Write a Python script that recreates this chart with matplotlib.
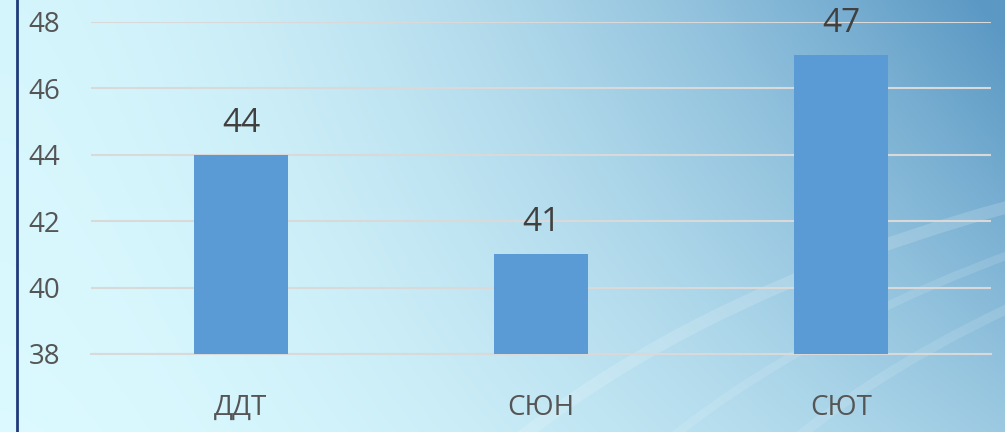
import numpy as np
import matplotlib
matplotlib.use("Agg")
import matplotlib.pyplot as plt
from matplotlib.patches import Arc

categories = ["ДДТ", "СЮН", "СЮТ"]
values = [44, 41, 47]
y_ticks = [38, 40, 42, 44, 46, 48]

plt.rcParams["font.family"] = ["Open Sans", "DejaVu Sans"]

fig = plt.figure(figsize=(10.05, 4.32), dpi=100)

# background gradient (light cyan on the left -> blue top-right)
bg = fig.add_axes([0, 0, 1, 1], zorder=0)
gx, gy = np.meshgrid(np.linspace(0, 1, 400), np.linspace(0, 1, 200))
t = np.clip(gx ** 1.7 * (0.5 + 0.5 * gy) + 0.05 * gy, 0, 1)
c0 = np.array([0.86, 0.98, 1.00])
c1 = np.array([0.36, 0.60, 0.77])
img = c0 + (c1 - c0) * t[..., None]
bg.imshow(img, origin="lower", extent=[0, 1, 0, 1], aspect="auto")
# soft swooshes
for cx, cy, w, h, a, lw in [(1.6, -0.9, 2.6, 3.2, 0.16, 9),
                             (1.75, -0.9, 2.6, 3.2, 0.12, 6),
                             (1.9, -0.8, 2.6, 3.0, 0.12, 7),
                             (0.9, -2.4, 2.8, 4.6, 0.14, 14),
                             (0.9, -2.1, 2.8, 4.2, 0.12, 8)]:
    bg.add_patch(Arc((cx, cy), w, h, theta1=95, theta2=170, color="white",
                     alpha=a, lw=lw))
bg.plot([0.017, 0.017], [0, 1], color="#1f3a7a", lw=2)
bg.set_xlim(0, 1)
bg.set_ylim(0, 1)
bg.axis("off")

ax = fig.add_axes([0.0905, 0.1806, 0.8955, 0.7685], zorder=1)
ax.patch.set_alpha(0)
x = np.arange(len(categories))
bars = ax.bar(x, values, width=0.313, color="#5b9bd5", zorder=3)
for b, v in zip(bars, values):
    ax.annotate(str(v), (b.get_x() + b.get_width() / 2, v),
                xytext=(0, 11), textcoords="offset points",
                ha="center", va="bottom", fontsize=24, color="#404040")

ax.set_xlim(-0.5, 2.5)
ax.set_ylim(38, 48)
ax.set_yticks(y_ticks)
ax.set_xticks(x)
ax.set_xticklabels(categories)
ax.tick_params(axis="y", length=0, pad=22, labelsize=20, labelcolor="#555555")
ax.tick_params(axis="x", length=0, pad=29, labelsize=20, labelcolor="#555555")
ax.yaxis.grid(True, color="#d9d9d9", lw=1.5, zorder=0)
for s in ax.spines.values():
    s.set_visible(False)
ax.spines["bottom"].set_visible(True)
ax.spines["bottom"].set_color("#d9d9d9")
ax.spines["bottom"].set_linewidth(1.5)

fig.savefig("out.png", dpi=100)
